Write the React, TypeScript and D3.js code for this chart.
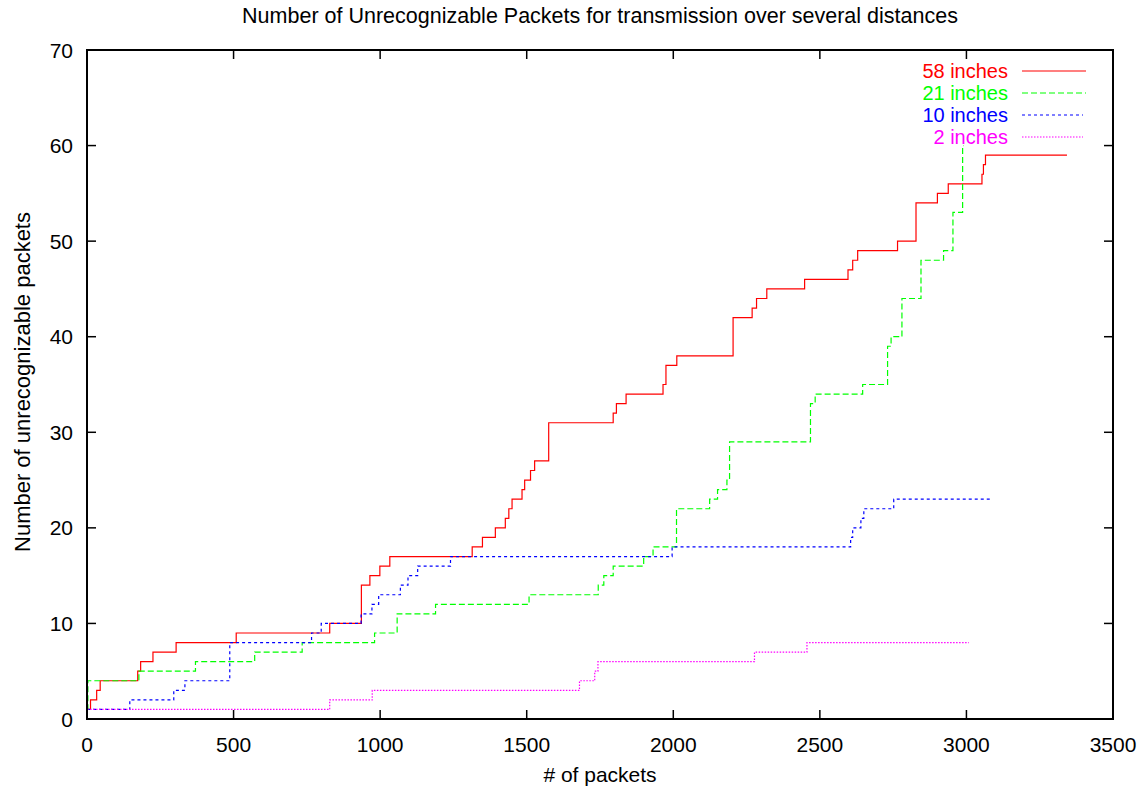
import React from 'react';
import * as d3 from 'd3';

// step data: [packet index, cumulative unrecognizable packets]
const inches58: [number, number][] = [
  [0, 1], [12, 2], [33, 3], [45, 4], [173, 5], [183, 6], [225, 7], [304, 8], [509, 9], [828, 10],
  [936, 14], [965, 15], [999, 16], [1033, 17], [1314, 18], [1349, 19], [1393, 20], [1427, 21],
  [1439, 22], [1450, 23], [1484, 24], [1493, 25], [1513, 26], [1527, 27], [1575, 31], [1795, 32],
  [1806, 33], [1839, 34], [1965, 35], [1975, 37], [2012, 38], [2204, 42], [2269, 43], [2284, 44],
  [2319, 45], [2448, 46], [2596, 47], [2612, 48], [2629, 49], [2765, 50], [2828, 54], [2901, 55],
  [2938, 56], [3053, 57], [3058, 58], [3065, 59], [3343, 59],
];
const inches21: [number, number][] = [
  [0, 1], [3, 4], [177, 5], [370, 6], [572, 7], [734, 8], [981, 9], [1058, 11], [1189, 12],
  [1508, 13], [1744, 14], [1763, 15], [1795, 16], [1899, 17], [1931, 18], [2011, 22], [2124, 23],
  [2151, 24], [2183, 25], [2192, 29], [2468, 33], [2484, 34], [2646, 35], [2731, 39], [2743, 40],
  [2780, 44], [2845, 48], [2922, 49], [2954, 53], [2987, 60], [2990, 60],
];
const inches10: [number, number][] = [
  [0, 1], [146, 2], [296, 3], [334, 4], [487, 8], [766, 9], [799, 10], [935, 11], [972, 12],
  [995, 13], [1069, 14], [1095, 15], [1128, 16], [1240, 17], [1996, 18], [2605, 19], [2612, 20],
  [2640, 21], [2650, 22], [2752, 23], [3081, 23],
];
const inches2: [number, number][] = [
  [0, 1], [828, 2], [973, 3], [1680, 4], [1732, 5], [1743, 6], [2277, 7], [2456, 8], [3008, 8],
];

const seriesNames = ['58 inches', '21 inches', '10 inches', '2 inches'];
const seriesData = [inches58, inches21, inches10, inches2];
const seriesColors = ['#ff0000', '#00ff00', '#0000ff', '#ff00ff'];
const seriesDash = [null, '6,3', '3,3', '1.5,1.5'];

const xTicks = [0, 500, 1000, 1500, 2000, 2500, 3000, 3500];
const yTicks = [0, 10, 20, 30, 40, 50, 60, 70];

export default function App() {
  const width = 1143;
  const height = 790;
  const left = 87, right = 1113, top = 50, bottom = 719;
  const font = '"Liberation Sans", Arial, Helvetica, sans-serif';

  const x = d3.scaleLinear().domain([0, 3500]).range([left, right]);
  const y = d3.scaleLinear().domain([0, 70]).range([bottom, top]);

  const line = d3.line<[number, number]>()
    .x(d => x(d[0]))
    .y(d => y(d[1]))
    .curve(d3.curveStepAfter);

  const tick = 9;

  return (
    <svg width={width} height={height} style={{ position: 'absolute', left: 0, top: 0, background: '#fff' }}
      fontFamily={font}>
      <rect x={0} y={0} width={width} height={height} fill="#fff" />

      {/* title */}
      <text x={600} y={23} textAnchor="middle" fontSize={21.5} fill="#000">
        Number of Unrecognizable Packets for transmission over several distances
      </text>

      {/* series */}
      {seriesData.map((s, i) => (
        <path key={seriesNames[i]} d={line(s) || ''} fill="none" stroke={seriesColors[i]}
          strokeWidth={1.2} strokeDasharray={seriesDash[i] || undefined} />
      ))}

      {/* ticks (mirrored on all sides, pointing inward) */}
      {xTicks.map(t => (
        <g key={'x' + t}>
          <line x1={x(t)} x2={x(t)} y1={bottom} y2={bottom - tick} stroke="#000" strokeWidth={1.5} />
          <line x1={x(t)} x2={x(t)} y1={top} y2={top + tick} stroke="#000" strokeWidth={1.5} />
          <text x={x(t)} y={bottom + 33} textAnchor="middle" fontSize={21}>{t}</text>
        </g>
      ))}
      {yTicks.map(t => (
        <g key={'y' + t}>
          <line x1={left} x2={left + tick} y1={y(t)} y2={y(t)} stroke="#000" strokeWidth={1.5} />
          <line x1={right} x2={right - tick} y1={y(t)} y2={y(t)} stroke="#000" strokeWidth={1.5} />
          <text x={73} y={y(t)} dy="0.36em" textAnchor="end" fontSize={21}>{t}</text>
        </g>
      ))}

      {/* frame */}
      <rect x={left} y={top} width={right - left} height={bottom - top} fill="none" stroke="#000" strokeWidth={2} />

      {/* axis labels */}
      <text x={600} y={782} textAnchor="middle" fontSize={21}># of packets</text>
      <text transform={`translate(30,382) rotate(-90)`} textAnchor="middle" fontSize={22}>
        Number of unrecognizable packets
      </text>

      {/* legend */}
      {seriesNames.map((name, i) => {
        const ly = 71 + i * 22;
        return (
          <g key={'leg' + name}>
            <text x={1008} y={ly} dy="0.36em" textAnchor="end" fontSize={20} fill={seriesColors[i]}>{name}</text>
            <line x1={1022} x2={i < 2 ? 1086 : 1083} y1={ly} y2={ly} stroke={seriesColors[i]}
              strokeWidth={1.2} strokeDasharray={seriesDash[i] || undefined} />
          </g>
        );
      })}
    </svg>
  );
}
